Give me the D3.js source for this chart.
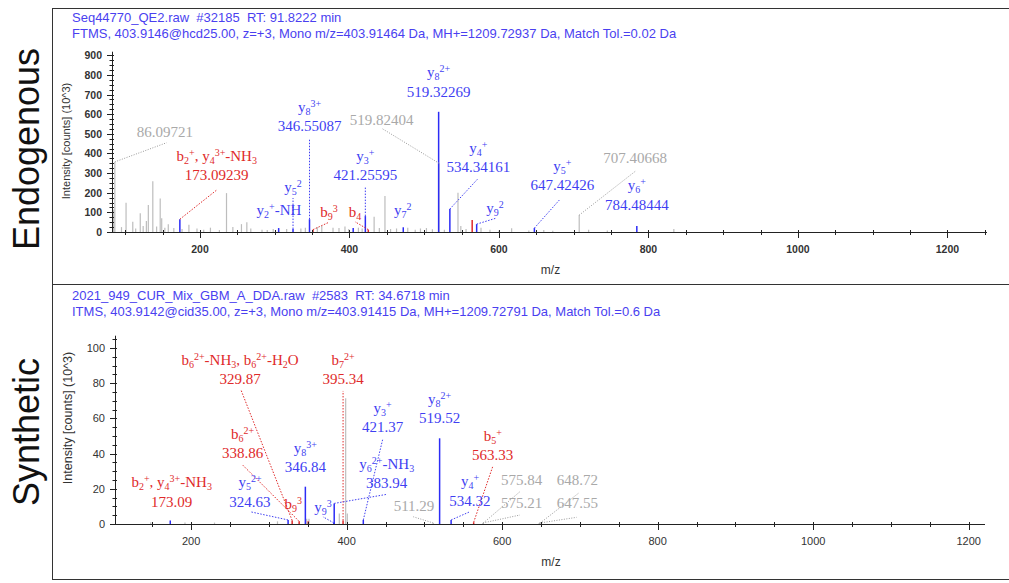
<!DOCTYPE html>
<html>
<head>
<meta charset="utf-8">
<script src="https://cdn.jsdelivr.net/npm/d3@7"></script>
<style>
  body { margin: 0; background: #fff; }
  svg { display: block; }
  .hdr { white-space: pre; }
</style>
</head>
<body>
<svg id="chart" width="1009" height="583"></svg>
<script>
// ---------- Endogenous spectrum (HCD, Orbitrap) ----------
const topHeader = [
  "Seq44770_QE2.raw  #32185  RT: 91.8222 min",
  "FTMS, 403.9146@hcd25.00, z=+3, Mono m/z=403.91464 Da, MH+=1209.72937 Da, Match Tol.=0.02 Da"
];
// unassigned peaks [m/z, intensity (10^3)]
const topNoise = [
  [84.5,115],[86.09721,357],[95,25],[101.1,149],[110.1,52],[114,18],[120.1,96],[124,30],
  [128.3,56],[130.9,137],[136.9,259],[142,28],[146.8,171],[148.8,70],[153,22],[157.6,40],
  [165,20],[176,15],[185.2,37],[196,18],[205,12],[214,22],[226,10],[235.5,198],[244,25],
  [255.5,40],[262.7,50],[268,18],[283,12],[290,10],[298,15],[316,15],[335,18],[341,22],
  [357,25],[363,30],[378,22],[386,20],[394,28],[399,15],[412,22],[417,18],[433,78],
  [440,20],[447.5,183],[455,15],[463,18],[478,22],[488,12],[495,18],[503,20],[511,14],
  [519.82404,350],[527,12],[545.2,200],[549,30],[556,15],[576,22],[588,12],[600,8],
  [617,19],[640,8],[660,10],[672,6],[707.40668,86],[720,12],[745,8],[834,15]
];
// y-type matched peaks
const topYIons = [
  [173.09239,65],[305.3,20],[324.5,15],[346.55087,65],[405,20],[421.25595,81],[472,24],
  [519.32269,612],[534.34161,117],[570.2,40],[647.42426,20],[784.48444,30]
];
// b-type matched peaks
const topBIons = [[351.2,12],[425.2,12],[564.2,61]];
// annotations: [ion, value, kind, label m/z, label int, tip m/z, tip int, peak m/z, peak int]
const topLabels = [
  ["", "86.09721", "n", 153.2, 510.7, 155.5, 454.7, 86.09721, 357],
  ["b_2^+, y_4^{3+}-NH_3", "173.09239", "b", 222.4, 290.2, 222.4, 213.8, 173.09239, 65],
  ["y_5^2", "", "y", 324.5, 230.6, 324.5, 173, 324.5, 15],
  ["y_2^+-NH", "", "y", 305.7, 112, null, null, 305.3, 20],
  ["y_8^{3+}", "346.55087", "y", 346.55087, 539.7, 346.55087, 473.5, 346.55087, 65],
  ["b_9^3", "", "b", 372.6, 103, 371.3, 47.3, 351.2, 12],
  ["b_4", "", "b", 407.4, 103, 407.4, 52.4, 425.2, 12],
  ["y_3^+", "421.25595", "y", 421.25595, 290.2, 421.25595, 230.6, 421.25595, 81],
  ["y_7^2", "", "y", 471.2, 112, null, null, 472, 24],
  ["y_8^{2+}", "519.32269", "y", 519.32269, 714.3, null, null, 519.32269, 612],
  ["", "519.82404", "n", 443.1, 570.2, 443.1, 528, 519.82404, 350],
  ["y_4^+", "534.34161", "y", 572.4, 329.4, 572.4, 273.4, 534.34161, 117],
  ["y_9^2", "", "y", 594.7, 120.6, 595.6, 69.8, 570.2, 40],
  ["y_5^+", "647.42426", "y", 684.8, 239.3, 681.7, 166.5, 647.42426, 20],
  ["", "707.40668", "n", 782.1, 375.2, 783.4, 312, 707.40668, 86],
  ["y_6^+", "784.48444", "y", 784.48444, 137.5, null, null, 784.48444, 30]
];
const topXTicks = [200, 400, 600, 800, 1000, 1200];
const topYTicks = [0, 100, 200, 300, 400, 500, 600, 700, 800, 900];

// ---------- Synthetic spectrum (CID, ion trap) ----------
const botHeader = [
  "2021_949_CUR_Mix_GBM_A_DDA.raw  #2583  RT: 34.6718 min",
  "ITMS, 403.9142@cid35.00, z=+3, Mono m/z=403.91415 Da, MH+=1209.72791 Da, Match Tol.=0.6 Da"
];
const botNoise = [
  [148,1],[192,0.8],[230,0.8],[311,1.5],[348.6,3],[351.5,3],[390.5,6],[398.7,71.4],
  [400.8,6],[511.29,0.6],[575.21,0.6],[575.84,0.6],[647.55,0.5],[648.72,0.5]
];
const botYIons = [
  [173.09,2],[324.63,2.3],[346.84,21.2],[383.5,0.6],[383.94,11.7],[421.37,2.3],
  [519.52,48.7],[534.32,2.3]
];
const botBIons = [[329.87,2],[338.86,1.5],[350.5,1.5],[395.34,2],[563.33,1]];
const botLabels = [
  ["b_6^{2+}-NH_3, b_6^{2+}-H_2O", "329.87", "b", 262.8, 82.2, 264.1, 76.1, 329.87, 2],
  ["b_7^{2+}", "395.34", "b", 395.34, 82.2, 395.34, 75.6, 395.34, 2],
  ["b_6^{2+}", "338.86", "b", 266.2, 40.2, 266.2, 33.5, 338.86, 1.5],
  ["y_8^{3+}", "346.84", "y", 346.84, 32.2, null, null, 346.84, 21.2],
  ["b_2^+, y_4^{3+}-NH_3", "173.09", "b", 174.9, 12.7, null, null, 173.09, 2],
  ["y_5^{2+}", "324.63", "y", 275.6, 12.7, 275.6, 7, 324.63, 2.3],
  ["b_9^3", "", "b", 331.3, 11.4, null, null, 338.86, 1.5],
  ["y_9^3", "", "y", 369.5, 9.8, 369.5, 4.1, 383.5, 0.6],
  ["y_6^{2+}-NH_3", "383.94", "y", 451.5, 23.1, 452.2, 16.9, 383.94, 11.7],
  ["y_3^+", "421.37", "y", 446.3, 54.9, 446.3, 48.1, 421.37, 2.3],
  ["y_8^{2+}", "519.52", "y", 519.52, 60, null, null, 519.52, 48.7],
  ["b_5^+", "563.33", "b", 587.8, 39.2, 587.8, 32.6, 563.33, 1],
  ["y_4^+", "534.32", "y", 558.6, 13.2, 558.6, 7, 534.32, 2.3],
  ["", "511.29", "n", 486.6, 10.2, 485.7, 4.1, 511.29, 0.6],
  ["", "575.84", "n", 625.1, 25, 622.9, 18.4, 575.84, 0.6],
  ["", "575.21", "n", 625.1, 11.8, 622.9, 5.1, 575.21, 0.6],
  ["", "648.72", "n", 696.6, 25, 697.9, 17.4, 648.72, 0.5],
  ["", "647.55", "n", 696.6, 11.8, 695.8, 3.8, 647.55, 0.5]
];
const botXTicks = [200, 400, 600, 800, 1000, 1200];
const botYTicks = [0, 20, 40, 60, 80, 100];

const sideTitles = ["Endogenous", "Synthetic"];

// ---------- styling ----------
const labelColor = { y: "#3f3ff2", b: "#e02a2a", n: "#a9a9a9" };
const peakColor = { y: "#2c2cf6", b: "#e02a2a", n: "#bdbdbd" };
const headerColor = "#4a3ff0";
const axisColor = "#222";
const serif = "'Liberation Serif', 'DejaVu Serif', serif";
const sans = "'Liberation Sans', Arial, sans-serif";

const svg = d3.select("#chart");

// outer frame
const frame = svg.append("g").attr("stroke", "#333").attr("stroke-width", 1);
frame.append("line").attr("x1", 52.5).attr("x2", 52.5).attr("y1", 8).attr("y2", 580);
frame.append("line").attr("x1", 52).attr("x2", 1009).attr("y1", 8.5).attr("y2", 8.5);
frame.append("line").attr("x1", 52).attr("x2", 1009).attr("y1", 284.5).attr("y2", 284.5);
frame.append("line").attr("x1", 52).attr("x2", 1009).attr("y1", 579.5).attr("y2", 579.5);

// side titles
[[sideTitles[0], 149], [sideTitles[1], 432]].forEach(([t, cy]) => {
  svg.append("text")
    .attr("transform", `translate(39,${cy}) rotate(-90)`)
    .attr("text-anchor", "middle")
    .attr("font-family", sans).attr("font-size", 36).attr("fill", "#111")
    .text(t);
});

function parseIon(s) {
  const out = [];
  let i = 0;
  while (i < s.length) {
    const c = s[i];
    if (c === "_" || c === "^") {
      let t;
      if (s[i + 1] === "{") { const j = s.indexOf("}", i); t = s.slice(i + 2, j); i = j + 1; }
      else { t = s[i + 1]; i += 2; }
      out.push({ t, mode: c === "_" ? "sub" : "sup" });
    } else {
      let j = i;
      while (j < s.length && s[j] !== "_" && s[j] !== "^") j++;
      out.push({ t: s.slice(i, j), mode: "n" });
      i = j;
    }
  }
  return out;
}

function richText(g, str, x, y, color) {
  const t = g.append("text").attr("x", x).attr("y", y)
    .attr("text-anchor", "middle").attr("fill", color)
    .attr("font-family", serif).attr("font-size", 15);
  let shift = 0;
  parseIon(str).forEach(seg => {
    const target = seg.mode === "sub" ? 3 : seg.mode === "sup" ? -5 : 0;
    t.append("tspan").attr("dy", target - shift)
      .attr("font-size", seg.mode === "n" ? 15 : 10).text(seg.t);
    shift = target;
  });
}

function drawPanel(p) {
  const g = svg.append("g");
  const { x, y } = p;
  const [x0, x1] = x.range();
  const y0 = y(0);

  // header lines
  p.header.forEach((h, i) => {
    g.append("text").attr("class", "hdr")
      .attr("x", 72).attr("y", p.headerY + i * 16)
      .attr("font-family", sans).attr("font-size", 13).attr("fill", headerColor)
      .text(h);
  });

  // peaks: noise first, then b, then y
  const peaks = g.append("g");
  const drawSet = (arr, kind, w) => {
    peaks.selectAll(null).data(arr).enter().append("line")
      .attr("x1", d => x(d[0])).attr("x2", d => x(d[0]))
      .attr("y1", y0).attr("y2", d => y(d[1]))
      .attr("stroke", peakColor[kind]).attr("stroke-width", w);
  };
  drawSet(p.noise, "n", 1.2);
  drawSet(p.bIons, "b", 1.5);
  drawSet(p.yIons, "y", 1.5);

  // annotation leaders + text
  const ann = g.append("g");
  p.labels.forEach(L => {
    const [ion, val, kind, lm, li, tm, ti, pm, pi] = L;
    if (tm !== null) {
      ann.append("line")
        .attr("x1", x(pm)).attr("y1", y(pi))
        .attr("x2", x(tm)).attr("y2", y(ti))
        .attr("stroke", kind === "n" ? "#9a9a9a" : labelColor[kind])
        .attr("stroke-width", 1)
        .attr("stroke-dasharray", kind === "n" ? "1,1.5" : "1.5,1.5");
    }
    const cx = x(lm), cy = y(li);
    if (ion && val) {
      richText(ann, ion, cx, cy - 19.5 + 5, labelColor[kind]);
      richText(ann, val, cx, cy + 5, labelColor[kind]);
    } else {
      richText(ann, ion || val, cx, cy + 5, labelColor[kind]);
    }
  });

  // axes
  const ax = g.append("g").attr("stroke", axisColor);
  ax.append("line").attr("x1", x0).attr("x2", x1).attr("y1", y0 + 0.5).attr("y2", y0 + 0.5);
  ax.append("line").attr("x1", x0 + 0.5).attr("x2", x0 + 0.5).attr("y1", y0).attr("y2", y.range()[1]);

  // x ticks
  const xd = x.domain();
  const minorX = d3.range(Math.ceil(xd[0] / 50) * 50, xd[1] + 0.01, 50);
  ax.selectAll(null).data(minorX).enter().append("line")
    .attr("x1", d => Math.round(x(d)) + 0.5).attr("x2", d => Math.round(x(d)) + 0.5)
    .attr("y1", y0 - 2).attr("y2", d => y0 + (p.xTicks.includes(d) ? 6 : 3));
  g.selectAll(null).data(p.xTicks).enter().append("text")
    .attr("x", d => x(d)).attr("y", y0 + 21)
    .attr("text-anchor", "middle").attr("font-family", sans)
    .attr("font-size", p.tickFont).attr("font-weight", p.tickWeight).attr("fill", "#333")
    .text(d => d);

  // y ticks
  const yd = y.domain();
  const minorY = d3.range(0, yd[1] + 0.01, p.yMinor);
  ax.selectAll(null).data(minorY).enter().append("line")
    .attr("y1", d => Math.round(y(d)) + 0.5).attr("y2", d => Math.round(y(d)) + 0.5)
    .attr("x1", d => x0 - (p.yTicks.includes(d) ? 5 : 2.5)).attr("x2", x0 + 2);
  g.selectAll(null).data(p.yTicks).enter().append("text")
    .attr("x", x0 - 10).attr("y", d => y(d) + 4)
    .attr("text-anchor", "end").attr("font-family", sans)
    .attr("font-size", p.tickFont).attr("font-weight", p.tickWeight).attr("fill", "#333")
    .text(d => d);

  // axis titles
  g.append("text").attr("x", (x0 + x1) / 2 + 1).attr("y", p.mzY)
    .attr("text-anchor", "middle").attr("font-family", sans)
    .attr("font-size", 12).attr("fill", "#333").text("m/z");
  g.append("text")
    .attr("transform", `translate(${p.yTitleX},${p.yTitleY}) rotate(-90)`)
    .attr("text-anchor", "middle").attr("font-family", sans)
    .attr("font-size", p.yTitleFont).attr("fill", "#333")
    .text("Intensity [counts] (10^3)");
}

drawPanel({
  x: d3.scaleLinear().domain([82.3, 1253]).range([112, 987]),
  y: d3.scaleLinear().domain([0, 918]).range([232, 51.7]),
  header: topHeader, headerY: 22,
  noise: topNoise, yIons: topYIons, bIons: topBIons, labels: topLabels,
  xTicks: topXTicks, yTicks: topYTicks, yMinor: 25,
  tickFont: 10.5, tickWeight: "bold",
  mzY: 274, yTitleX: 70, yTitleY: 141, yTitleFont: 11
});

drawPanel({
  x: d3.scaleLinear().domain([102, 1221]).range([115, 985]),
  y: d3.scaleLinear().domain([0, 107]).range([524, 335.7]),
  header: botHeader, headerY: 300,
  noise: botNoise, yIons: botYIons, bIons: botBIons, labels: botLabels,
  xTicks: botXTicks, yTicks: botYTicks, yMinor: 5,
  tickFont: 11, tickWeight: "normal",
  mzY: 566, yTitleX: 72, yTitleY: 418, yTitleFont: 12.5
});
</script>
</body>
</html>
